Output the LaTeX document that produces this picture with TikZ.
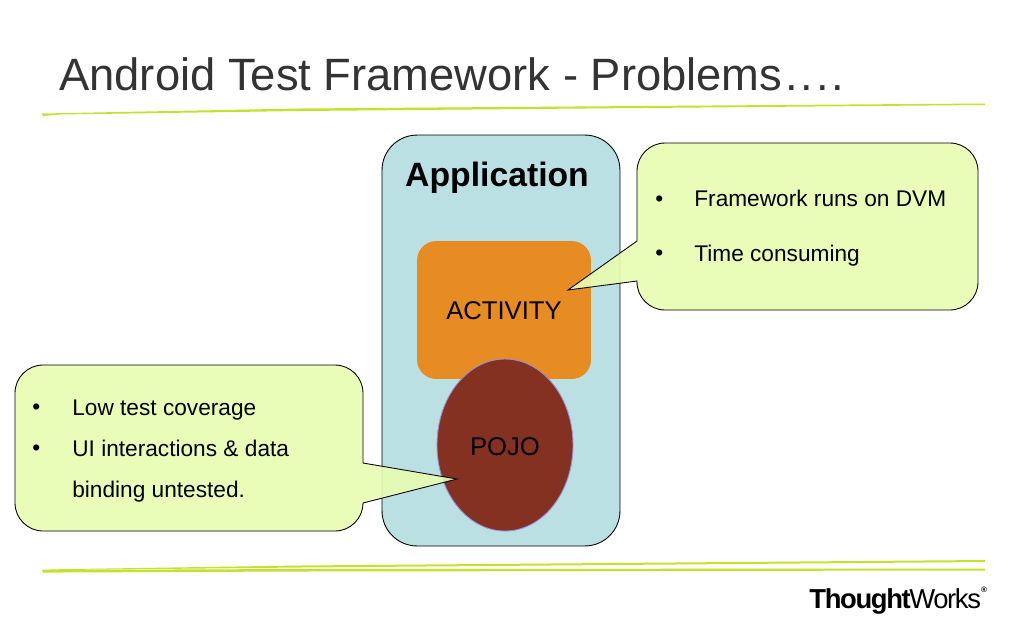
\documentclass[tikz,border=0pt]{standalone}
\usepackage{fontspec}
\setmainfont{Liberation Sans}
\definecolor{appblue}{HTML}{BBE0E3}
\definecolor{actorange}{HTML}{E68C22}
\definecolor{pojobrown}{HTML}{843122}
\definecolor{pojoline}{HTML}{9A8FD8}
\definecolor{notegreen}{HTML}{E7FDB1}
\definecolor{rulegreen}{HTML}{C6E02E}
\definecolor{titlegray}{HTML}{333333}
\tikzset{
  notetext/.style={anchor=base west, inner sep=0pt, font=\fontsize{12.9}{15}\selectfont},
  notebox/.style={draw=black, fill=notegreen, fill opacity=0.9, line width=0.5pt},
  rulestroke/.style={fill=rulegreen, draw=none},
}
\begin{document}
\begin{tikzpicture}[x=0.02cm, y=-0.02cm]
      \useasboundingbox (0, 0) rectangle (1024, 640);
      % title and rules
      \node [anchor=base west, inner sep=0pt, text=titlegray, font=\fontsize{25.8}{30}\selectfont] (title) at (59, 90) {Android Test Framework - Problems\kern2pt.\kern1.5pt.\kern1.5pt.\kern1.5pt.};
      \fill [rulestroke] (42, 113.5) -- (300, 108.5) -- (985, 103.5) -- (985, 105) -- (300, 111) -- (60, 114.5) -- (43, 116) -- cycle;
      \fill [rulestroke] (42, 569.5) -- (300, 565.5) -- (985, 560) -- (985, 562) -- (300, 567.5) -- (60, 570) -- cycle;
      \fill [rulestroke] (42, 570) -- (300, 569) -- (985, 568.5) -- (985, 570.5) -- (300, 571.5) -- (60, 572.5) -- (43, 572.5) -- cycle;
      % application
      \node [draw=black, fill=appblue, rounded corners=20pt, line width=0.5pt, minimum width=4.76cm, minimum height=8.22cm, inner sep=0pt] (application) at (501, 340.5) {};
      \node [inner sep=0pt, anchor=base, font=\fontsize{19.2}{22}\bfseries\selectfont] (apptitle) at (497, 186) {Application};
      \node [fill=actorange, rounded corners=11pt, minimum width=3.48cm, minimum height=2.76cm, inner sep=0pt] (activity) at (504, 310) {};
      \node [inner sep=0pt, font=\fontsize{14.6}{17}\selectfont] (activitytext) at (504, 311) {ACTIVITY};
      \draw [draw=pojoline, fill=pojobrown, line width=0.5pt] (505, 445) ellipse (68 and 86);
      \node [inner sep=0pt, font=\fontsize{14.6}{17}\selectfont] (pojo) at (505, 447) {POJO};
      % right note
      \draw [notebox] (637, 241) -- (568, 290) -- (637, 281) [rounded corners=16pt] -- (637, 310) -- (978, 310) -- (978, 143) -- (637, 143) -- (637, 200) [sharp corners] -- cycle;
      \node [notetext] (dvmbullet) at (655, 206) {•};
      \node [notetext] (dvm) at (694, 206) {Framework runs on DVM};
      \node [notetext] (timebullet) at (655, 260) {•};
      \node [notetext] (time) at (694, 261) {Time consuming};
      % left note
      \draw [notebox] (363, 463) -- (457, 479) -- (363, 503) [rounded corners=16pt] -- (363, 531) -- (15, 531) -- (15, 365) -- (363, 365) -- (363, 420) [sharp corners] -- cycle;
      \node [notetext] (lowbullet) at (32, 414) {•};
      \node [notetext] (low) at (72, 415) {Low test coverage};
      \node [notetext] (uibullet) at (32, 455) {•};
      \node [notetext] (ui) at (72, 456) {UI interactions \& data};
      \node [notetext] (binding) at (72, 497) {binding untested.};
      % logo
      \node [anchor=base west, inner sep=0pt, font=\fontsize{15.6}{18}\selectfont] (logo) at (809, 608) {\addfontfeature{LetterSpace=-5}\textbf{Thought}Works\raisebox{1.1ex}{\fontsize{4.5}{4.5}\bfseries\selectfont®}};
    \end{tikzpicture}
\end{document}
